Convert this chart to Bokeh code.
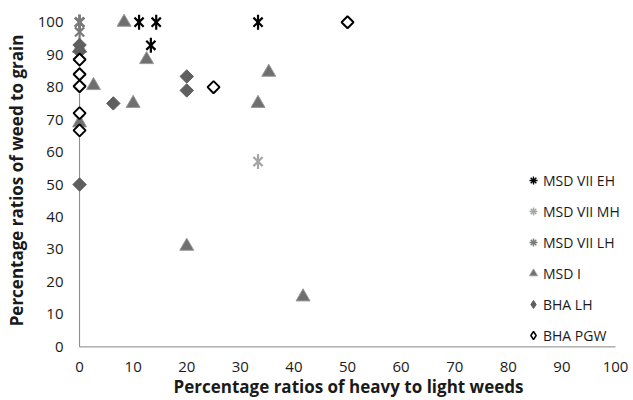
import math
from bokeh.plotting import figure
from bokeh.models import Range1d, FixedTicker, Legend, LegendItem
from bokeh.embed import file_html
from bokeh.resources import INLINE

# ---- data ----
x_ticks = [0, 10, 20, 30, 40, 50, 60, 70, 80, 90, 100]
y_ticks = [0, 10, 20, 30, 40, 50, 60, 70, 80, 90, 100]

series_names = ["MSD VII EH", "MSD VII MH", "MSD VII LH", "MSD I", "BHA LH", "BHA PGW"]

msd7_eh_x = [0, 11.1, 14.3, 13.3, 33.3]
msd7_eh_y = [100, 100, 100, 92.9, 100]

msd7_mh_x = [0, 33.3, 0]
msd7_mh_y = [100, 57.1, 70]

msd7_lh_x = [0, 0]
msd7_lh_y = [100, 97]

msd1_x = [0, 0, 8.3, 2.6, 12.5, 10, 20, 33.3, 35.3, 41.7]
msd1_y = [92, 69, 100, 80.5, 88.5, 75, 31, 75, 84.6, 15.4]

bha_lh_x = [0, 0, 6.3, 20, 20, 0]
bha_lh_y = [93, 91, 75, 83.3, 79, 50]

bha_pgw_x = [0, 0, 0, 0, 0, 25, 50]
bha_pgw_y = [88.5, 84, 80.3, 72, 66.7, 80, 100]

FONT = "Open Sans"
TXT = "#1a1a1a"

p = figure(width=633, height=400, output_backend="svg", toolbar_location=None,
           x_range=Range1d(-3, 103.36), y_range=Range1d(-0.5, 103),
           min_border_left=63, min_border_right=0, min_border_top=12,
           min_border_bottom=50)
p.outline_line_color = None
p.grid.visible = False
p.background_fill_color = "white"
p.border_fill_color = "white"

for ax, ticks in ((p.xaxis[0], x_ticks), (p.yaxis[0], y_ticks)):
    ax.ticker = FixedTicker(ticks=ticks)
    ax.axis_line_color = None
    ax.major_tick_line_color = None
    ax.minor_tick_line_color = None
    ax.major_tick_out = 0
    ax.major_tick_in = 0
    ax.minor_tick_out = 0
    ax.minor_tick_in = 0
    ax.major_label_text_font = FONT
    ax.major_label_text_font_size = "15px"
    ax.major_label_text_color = TXT
    ax.axis_label_text_font = FONT
    ax.axis_label_text_font_size = "17px"
    ax.axis_label_text_font_style = "bold"
    ax.axis_label_text_color = TXT

p.xaxis.axis_label = "Percentage ratios of heavy to light weeds"
p.yaxis.axis_label = "Percentage ratios of weed to grain"
p.xaxis.major_label_standoff = 13
p.xaxis.axis_label_standoff = 0
p.yaxis.major_label_standoff = 0
p.yaxis.axis_label_standoff = 7

# axis lines at x=0 and y=0
p.segment(x0=[x_ticks[0], x_ticks[0]], y0=[y_ticks[0], y_ticks[0]],
          x1=[x_ticks[0], x_ticks[-1]], y1=[y_ticks[-1], y_ticks[0]],
          line_color="#868686", line_width=1)

def star(xs, ys, color):
    # tiny glyph hidden under the plotted star; used to draw the legend symbol
    leg = p.scatter(xs, ys, marker="asterisk", size=3, line_color=color, line_width=1.4)
    p.scatter(xs, ys, marker="x", size=13, line_color=color, line_width=2.2)
    p.scatter(xs, ys, marker="dash", angle=math.pi / 2, size=15,
              line_color=color, line_width=2.2)
    return leg

l_eh = star(msd7_eh_x, msd7_eh_y, "#000000")
l_mh = star(msd7_mh_x, msd7_mh_y, "#a6a6a6")
l_lh = star(msd7_lh_x, msd7_lh_y, "#7a7a7a")

l_m1 = p.scatter(msd1_x, msd1_y, marker="triangle", size=14,
                 fill_color="#6f6f6f", line_color="#9a9a9a", line_width=1)

l_bl = p.scatter(bha_lh_x, bha_lh_y, marker="diamond", size=3,
                 fill_color="#5f5f5f", line_color="#5f5f5f", line_width=1)
p.scatter(bha_lh_x, bha_lh_y, marker="square", angle=math.pi / 4, size=9.5,
          fill_color="#5f5f5f", line_color="#5f5f5f", line_width=1)

l_bp = p.scatter(bha_pgw_x, bha_pgw_y, marker="diamond", size=3,
                 fill_color="white", line_color="#000000", line_width=1.5)
p.scatter(bha_pgw_x, bha_pgw_y, marker="square", angle=math.pi / 4, size=8.5,
          fill_color="white", line_color="#000000", line_width=2)

items = [LegendItem(label=n, renderers=[r]) for n, r in
         zip(series_names, [l_eh, l_mh, l_lh, l_m1, l_bl, l_bp])]
legend = Legend(items=items, location=(460, 3), orientation="vertical",
                padding=0, margin=0, border_line_color=None,
                background_fill_alpha=0, glyph_width=20, glyph_height=20,
                label_height=20, spacing=11, label_standoff=0,
                label_text_font=FONT, label_text_font_size="14px",
                label_text_color=TXT)
p.add_layout(legend, "center")

open("out.html", "w").write(file_html(p, INLINE))
